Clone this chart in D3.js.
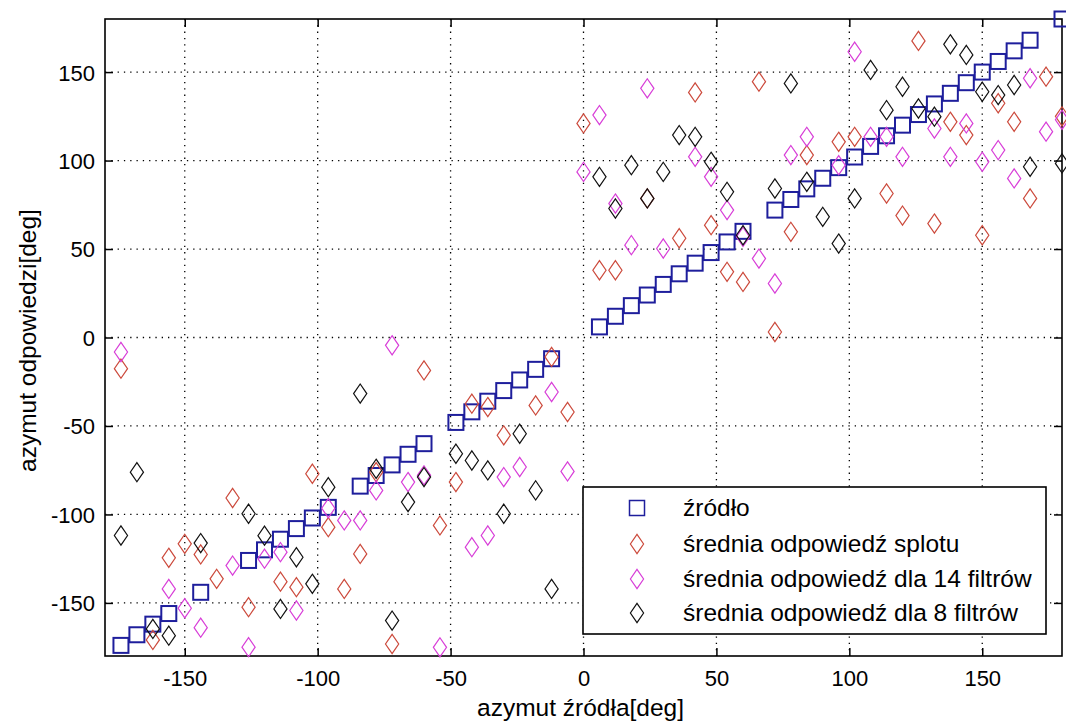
<!DOCTYPE html>
<html>
<head>
<meta charset="utf-8">
<script src="https://cdn.jsdelivr.net/npm/d3@7/dist/d3.min.js"></script>
<style>
  html, body { margin: 0; padding: 0; background: #ffffff; }
  svg { display: block; }
  text { font-family: "Liberation Sans", Arial, sans-serif; fill: #000; }
</style>
</head>
<body>
<svg id="chart" width="1066" height="724"></svg>
<script>
// ---------- data ----------
const xTicks = [-150, -100, -50, 0, 50, 100, 150];
const yTicks = [-150, -100, -50, 0, 50, 100, 150];
const xLabel = "azymut źródła[deg]";
const yLabel = "azymut odpowiedzi[deg]";
const seriesNames = ["źródło", "średnia odpowiedź splotu", "średnia odpowiedź dla 14 filtrów", "średnia odpowiedź dla 8 filtrów"];

// source azimuths (squares)
const sourceAz   = [-174,-168,-162,-156,-144,-126,-120,-114,-108,-102,-96,-84,-78,-72,-66,-60,-48,-42,-36,-30,-24,-18,-12,
                    6,12,18,24,30,36,42,48,54,60,72,78,84,90,96,102,108,114,120,126,132,138,144,150,156,162,168,180];
const sourceResp = [-174,-168,-162,-156,-144,-126,-120,-114,-108,-102,-96,-84,-78,-72,-66,-60,-48,-42,-36,-30,-24,-18,-12,
                    6,12,18,24,30,36,42,48,54,60,72,78,84,90,96,102,108,114,120,126,132,138,144,150,156,162,168,180];

// mean response of convolution (red)
const convAz   = [-174,-162,-156,-150,-144,-138,-132,-126,-114,-108,-102,-96,-90,-84,-78,-72,-60,-54,-48,-42,-36,-30,-18,-12,-6,
                  0,6,12,24,36,42,48,54,60,66,72,78,84,96,102,114,120,126,132,138,144,150,156,162,168,174,180];
const convResp = [-17.6,-170.9,-124.5,-116.6,-122.6,-136.4,-90.7,-152.4,-138,-141.1,-77,-107.2,-142.1,-122.3,-76.1,-173.2,-18.6,-106.2,-81.7,-37.4,-39.3,-55.3,-38.4,-11,-42.1,
                  121,38,38,78.6,56.1,138.5,63.5,37.1,31.4,144.6,3.1,59.7,103.1,110.6,113.4,81.4,68.9,167.6,64.4,121.9,114.4,57.8,132.4,121.9,78.6,147.4,125];

// mean response for 14 filters (magenta)
const f14Az   = [-174,-156,-150,-144,-132,-126,-120,-114,-108,-96,-90,-84,-78,-72,-66,-60,-54,-42,-36,-30,-24,-12,-6,
                 0,6,12,18,24,30,42,48,54,60,66,72,78,84,96,102,108,114,120,132,138,144,150,156,162,168,174,180];
const f14Resp = [-8.2,-142.1,-153,-164,-128.9,-175,-125,-121.3,-154.3,-96.5,-103.4,-103.4,-86.4,-4.4,-81.7,-77.9,-175.1,-118.5,-111.9,-78.9,-73.2,-30.8,-75.7,
                 93.6,125.7,75.7,52.2,140.8,50.3,102.1,90.8,72,56.9,44.6,30.5,103.1,113.4,97.4,161.5,113.4,113.4,102.1,118.1,102.1,121,99.3,105.9,89.9,146.5,116.3,123];

// mean response for 8 filters (black)
const f8Az   = [-174,-168,-162,-156,-144,-126,-120,-114,-108,-102,-96,-84,-78,-72,-66,-60,-48,-42,-36,-30,-24,-18,-12,
                6,12,18,24,30,36,42,48,54,60,72,78,84,90,96,102,108,114,120,126,132,138,144,150,156,162,168,180];
const f8Resp = [-111.9,-76.1,-164.7,-168.5,-116.2,-99.6,-112,-153.4,-124.2,-139.2,-84.6,-31.7,-74.2,-160,-93,-78.9,-65.7,-69.5,-75.1,-99.6,-54.4,-86.4,-142.1,
                90.8,72.9,97.4,78.6,93.6,114.4,113.4,99.3,82.3,57.8,84.2,143.6,88,68.2,53.1,78.6,151.2,128.5,141.7,129.4,124.8,165.7,159.7,138.9,137,142.7,96.5,98.4];

// ---------- layout ----------
const svg = d3.select("#chart");
const L = 105, R = 1062, T = 19, B = 656;
const x = d3.scaleLinear().domain([-180, 180]).range([L, R]);
const y = d3.scaleLinear().domain([-180, 180]).range([B, T]);

const colors = { src: "#1e1e9c", conv: "#cc4a3c", f14: "#d83ed8", f8: "#111111" };

// grid (dotted)
const grid = svg.append("g");
grid.selectAll("line.gx").data(xTicks).join("line")
  .attr("x1", d => x(d)).attr("x2", d => x(d)).attr("y1", T).attr("y2", B)
  .attr("stroke", "#000").attr("stroke-width", 1.3).attr("stroke-dasharray", "1.3,5");
grid.selectAll("line.gy").data(yTicks).join("line")
  .attr("y1", d => y(d)).attr("y2", d => y(d)).attr("x1", L).attr("x2", R)
  .attr("stroke", "#000").attr("stroke-width", 1.3).attr("stroke-dasharray", "1.3,5");

// axes with inward ticks
const tickLen = 8;
const ax = svg.append("g").attr("transform", `translate(0,${B})`)
  .call(d3.axisBottom(x).tickValues(xTicks).tickSize(-tickLen).tickPadding(14).tickFormat(d => String(d)));
const axTop = svg.append("g").attr("transform", `translate(0,${T})`)
  .call(d3.axisTop(x).tickValues(xTicks).tickSize(-tickLen).tickFormat(""));
const ay = svg.append("g").attr("transform", `translate(${L},0)`)
  .call(d3.axisLeft(y).tickValues(yTicks).tickSize(-tickLen).tickPadding(10).tickFormat(d => String(d)));
const ayR = svg.append("g").attr("transform", `translate(${R},0)`)
  .call(d3.axisRight(y).tickValues(yTicks).tickSize(-tickLen).tickFormat(""));
[ax, axTop, ay, ayR].forEach(g => {
  g.select(".domain").remove();
  g.selectAll(".tick line").attr("stroke", "#000").attr("stroke-width", 1.5);
  g.selectAll(".tick text").attr("font-size", 22).attr("fill", "#111")
    .attr("font-family", "'Liberation Sans', Arial, sans-serif");
});
ay.selectAll(".tick text").attr("dy", "0.36em");

// frame
svg.append("rect").attr("x", L).attr("y", T).attr("width", R - L).attr("height", B - T)
  .attr("fill", "none").attr("stroke", "#000").attr("stroke-width", 1.6);

// axis titles
svg.append("text").attr("x", (L + R) / 2 - 3).attr("y", 716).attr("text-anchor", "middle")
  .attr("font-size", 24.5).attr("fill", "#111").text(xLabel);
svg.append("text").attr("transform", `translate(36,${(T + B) / 2 + 3}) rotate(-90)`)
  .attr("text-anchor", "middle").attr("font-size", 24.5).attr("fill", "#111").text(yLabel);

// markers
const sqHalf = 7.5;
const dmW = 6.6, dmH = 9.6;
function diamondPath(cx, cy) {
  return `M${cx},${cy - dmH}L${cx + dmW},${cy}L${cx},${cy + dmH}L${cx - dmW},${cy}Z`;
}

const marks = svg.append("g");
marks.selectAll("rect.src").data(sourceAz.map((a, i) => [a, sourceResp[i]])).join("rect")
  .attr("x", d => x(d[0]) - sqHalf).attr("y", d => y(d[1]) - sqHalf)
  .attr("width", 2 * sqHalf).attr("height", 2 * sqHalf)
  .attr("fill", "none").attr("stroke", colors.src).attr("stroke-width", 2);

function drawDiamonds(az, resp, color) {
  marks.append("g").selectAll("path").data(az.map((a, i) => [a, resp[i]])).join("path")
    .attr("d", d => diamondPath(x(d[0]), y(d[1])))
    .attr("fill", "none").attr("stroke", color).attr("stroke-width", 1.2);
}
drawDiamonds(convAz, convResp, colors.conv);
drawDiamonds(f14Az, f14Resp, colors.f14);
drawDiamonds(f8Az, f8Resp, colors.f8);

// legend
const lg = svg.append("g");
lg.append("rect").attr("x", 583).attr("y", 487).attr("width", 463).attr("height", 147)
  .attr("fill", "#fff").attr("stroke", "#000").attr("stroke-width", 1.6);
const rowsY = [508, 544, 579, 613];
const legendColors = [colors.src, colors.conv, colors.f14, colors.f8];
seriesNames.forEach((name, i) => {
  const cy = rowsY[i], cx = 637;
  if (i === 0) {
    lg.append("rect").attr("x", cx - 7.5).attr("y", cy - 7.5).attr("width", 15).attr("height", 15)
      .attr("fill", "none").attr("stroke", legendColors[i]).attr("stroke-width", 1.5);
  } else {
    lg.append("path").attr("d", diamondPath(cx, cy)).attr("fill", "none")
      .attr("stroke", legendColors[i]).attr("stroke-width", 1.2);
  }
  lg.append("text").attr("x", 683).attr("y", cy + 8).attr("font-size", 24.5).attr("fill", "#111").text(name);
});
</script>
</body>
</html>
